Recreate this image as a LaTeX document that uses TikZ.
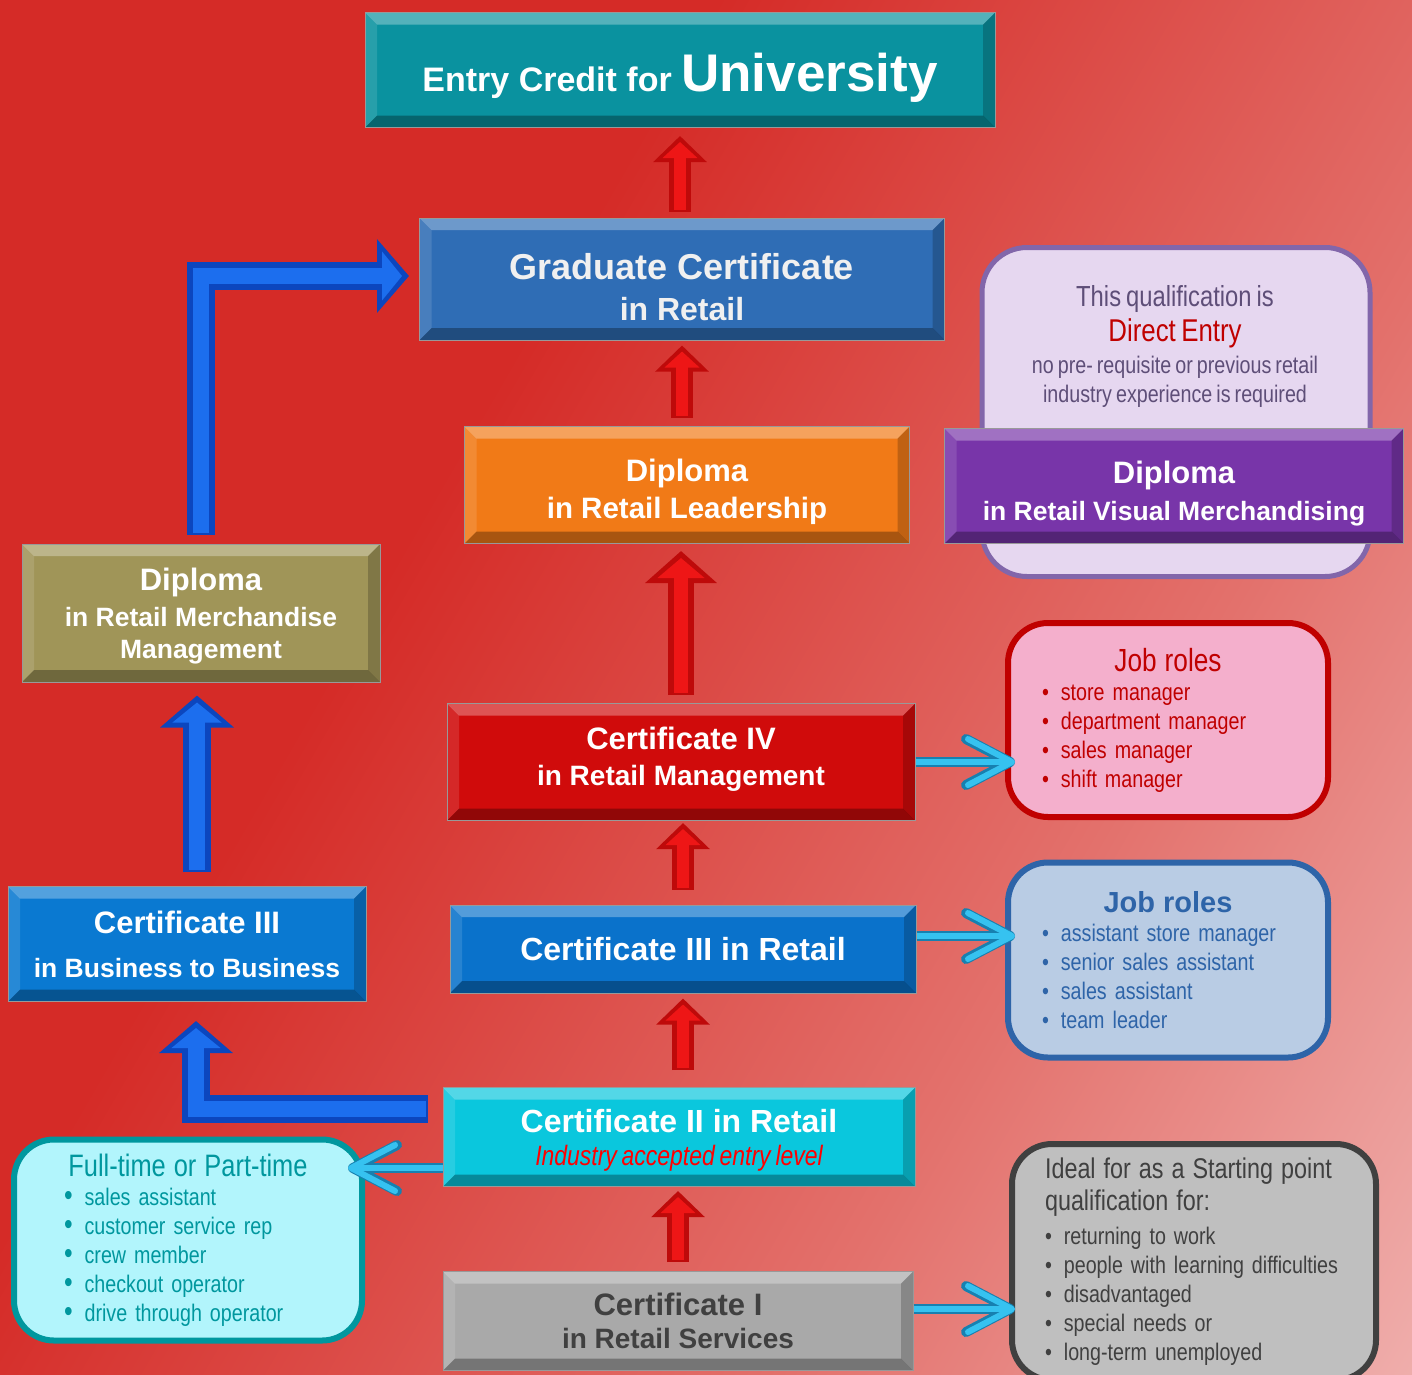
\documentclass[tikz,border=0pt]{standalone}
\usepackage{fontspec}
\setmainfont{Liberation Sans}
\newfontfamily\narrowfont[FakeStretch=0.82, WordSpace=0.75]{Liberation Sans}
\usetikzlibrary{arrows.meta}

\definecolor{bgred}{HTML}{D52B27}
\definecolor{bgmid}{HTML}{E3716C}
\definecolor{bgpink}{HTML}{F9DEDE}
\definecolor{univteal}{HTML}{0A929F}
\definecolor{gradblue}{HTML}{2F6DB5}
\definecolor{leadorange}{HTML}{F17A17}
\definecolor{visualpurple}{HTML}{7835A9}
\definecolor{merchgold}{HTML}{A09558}
\definecolor{certred}{HTML}{D00B0B}
\definecolor{retailblue}{HTML}{0A72CB}
\definecolor{btobblue}{HTML}{0A79D1}
\definecolor{entrycyan}{HTML}{0AC7DD}
\definecolor{servicegray}{HTML}{A9A9A9}
\definecolor{arrowred}{HTML}{EE1616}
\definecolor{arrowreddark}{HTML}{BE0A0A}
\definecolor{arrowblue}{HTML}{1C6EEE}
\definecolor{arrowbluedark}{HTML}{0C46BE}
\definecolor{pointer}{HTML}{36C2F0}
\definecolor{pointerdark}{HTML}{1780B0}
\definecolor{rolesred}{HTML}{C00000}
\definecolor{rolespink}{HTML}{F4AFCC}
\definecolor{rolesblue}{HTML}{2E64A8}
\definecolor{rolesfill}{HTML}{B9CCE4}
\definecolor{parttime}{HTML}{00979E}
\definecolor{parttimefill}{HTML}{B2F5FC}
\definecolor{idealgray}{HTML}{404040}
\definecolor{idealfill}{HTML}{BFBFBF}
\definecolor{directline}{HTML}{8266AA}
\definecolor{directfill}{HTML}{E6D7F0}
\definecolor{directtext}{HTML}{5E4E78}

\pgfdeclarehorizontalshading{backdrop}{100bp}{color(0bp)=(bgred); color(38bp)=(bgred); color(65bp)=(bgmid); color(100bp)=(bgpink)}

\newcommand\headsize{\fontsize{31}{37}\selectfont}

\begin{document}
\begin{tikzpicture}[x=1pt, y=-1pt,
  bevel/.style={path picture={
    \path (path picture bounding box.north west) coordinate (bnw)
          (path picture bounding box.north east) coordinate (bne)
          (path picture bounding box.south west) coordinate (bsw)
          (path picture bounding box.south east) coordinate (bse);
    \fill[white, opacity=.3] (bnw) -- (bne) -- ([shift={(-12pt,-12pt)}]bne) -- ([shift={(12pt,-12pt)}]bnw) -- cycle;
    \fill[white, opacity=.12] (bnw) -- ([shift={(12pt,-12pt)}]bnw) -- ([shift={(12pt,12pt)}]bsw) -- (bsw) -- cycle;
    \fill[black, opacity=.3] (bsw) -- ([shift={(12pt,12pt)}]bsw) -- ([shift={(-12pt,12pt)}]bse) -- (bse) -- cycle;
    \fill[black, opacity=.2] (bse) -- ([shift={(-12pt,12pt)}]bse) -- ([shift={(-12pt,-12pt)}]bne) -- (bne) -- cycle;}},
  qual/.style={rectangle, fill=#1, draw=black!40, line width=1pt, bevel, inner sep=0pt,
    align=center, text=white, font=\bfseries\fontsize{28}{33}\selectfont},
  infobox/.style={rectangle, rounded corners=40pt, draw=#1, text=#1, line width=6pt, inner sep=0pt,
    align=left, font=\narrowfont\fontsize{24}{29}\selectfont},
  redup/.style={draw=arrowreddark, line width=22pt, -{Triangle[width=52pt,length=26pt]},
    postaction={draw=arrowred, line width=12pt, shorten >=6pt, shorten <=2pt, -{Triangle[width=34pt,length=16pt]}}},
  redbig/.style={draw=arrowreddark, line width=26pt, -{Triangle[width=70pt,length=32pt]},
    postaction={draw=arrowred, line width=14pt, shorten >=7pt, shorten <=2pt, -{Triangle[width=46pt,length=20pt]}}},
  blueup/.style={draw=arrowbluedark, line width=28pt, line join=miter, -{Triangle[width=72pt,length=32pt]},
    postaction={draw=arrowblue, line width=16pt, shorten >=7pt, shorten <=2pt, -{Triangle[width=48pt,length=20pt]}}},
  pointer/.style={draw=pointer, line width=6pt, -{Straight Barb[length=44pt,width=46pt,round]},
    preaction={draw=pointerdark, line width=10pt}}]

\shade[shading=backdrop, shading angle=-30] (0,0) rectangle (1412,1374);
\useasboundingbox (0,0) rectangle (1412,1374);

\node[rectangle, rounded corners=45pt, draw=directline, fill=directfill, line width=5pt,
  minimum width=388pt, minimum height=329pt] (direct) at (1176,412) {};
\node[align=center, text=directtext, font=\narrowfont\fontsize{24}{29}\selectfont] (directnote) at (1175,346)
  {{\fontsize{29}{35}\selectfont This qualification is}\\[6pt]
   {\color{rolesred}\fontsize{31.5}{35}\selectfont Direct Entry}\\[3pt]
   no pre- requisite or previous retail\\
   industry experience is required};

\node[qual=univteal, minimum width=630pt, minimum height=115pt] (univ) at (680,70)
  {\rule{0pt}{53pt}\fontsize{34}{40}\selectfont Entry Credit for \fontsize{53}{60}\selectfont University};
\node[qual=gradblue, text=black!6, minimum width=525pt, minimum height=122pt] (grad) at (682,279)
  {\rule{0pt}{42pt}\fontsize{36}{41}\selectfont Graduate Certificate\\[8pt]{\fontsize{32}{37}\selectfont in Retail}};
\node[qual=leadorange, minimum width=445pt, minimum height=117pt, font=\bfseries\fontsize{29.5}{33}\selectfont] (lead) at (687,485)
  {\rule{0pt}{37pt}{\headsize Diploma}\\[4pt]in Retail Leadership};
\node[qual=visualpurple, minimum width=459pt, minimum height=115pt,
  font=\bfseries\fontsize{26.5}{32}\selectfont] (visual) at (1174,486)
  {\rule{0pt}{38pt}{\headsize Diploma}\\[5pt]in Retail Visual Merchandising};
\node[qual=merchgold, minimum width=358pt, minimum height=138pt,
  font=\bfseries\fontsize{26.5}{32}\selectfont] (merch) at (201,613)
  {\rule{0pt}{28pt}{\headsize Diploma}\\[4pt]in Retail Merchandise\\Management};
\node[qual=certred, minimum width=468pt, minimum height=117pt] (cert4) at (681,762)
  {{\headsize Certificate IV}\\[3pt]in Retail Management\rule[-12pt]{0pt}{12pt}};
\node[qual=retailblue, minimum width=466pt, minimum height=88pt] (cert3) at (683,949)
  {\fontsize{32}{37}\selectfont Certificate III in Retail};
\node[qual=btobblue, minimum width=358pt, minimum height=115pt,
  font=\bfseries\fontsize{26.5}{32}\selectfont] (btob) at (187,944)
  {{\headsize Certificate III}\\[12pt]in Business to Business};
\node[qual=entrycyan, minimum width=472pt, minimum height=99pt] (cert2) at (679,1137)
  {\rule{0pt}{29pt}{\fontsize{32}{37}\selectfont Certificate II in Retail}\\
   {\narrowfont\mdseries\itshape\color{red}\fontsize{28}{33}\selectfont Industry accepted entry level}};
\node[qual=servicegray, text=idealgray, minimum width=470pt, minimum height=99pt] (cert1) at (678,1321)
  {{\headsize Certificate I}\\in Retail Services};

\node[infobox=rolesred, fill=rolespink, minimum width=320pt, minimum height=194pt, text width=252pt] (roles4) at (1168,720)
  {{\centering\fontsize{32}{32}\selectfont Job roles\par}
   \textbullet\enspace store manager\\
   \textbullet\enspace department manager\\
   \textbullet\enspace sales manager\\
   \textbullet\enspace shift manager};
\node[infobox=rolesblue, fill=rolesfill, minimum width=320pt, minimum height=195pt, text width=252pt] (roles3) at (1168,960)
  {{\centering\rmfamily\bfseries\fontsize{29}{32}\selectfont Job roles\par}
   \textbullet\enspace assistant store manager\\
   \textbullet\enspace senior sales assistant\\
   \textbullet\enspace sales assistant\\
   \textbullet\enspace team leader};
\node[infobox=parttime, fill=parttimefill, minimum width=348pt, minimum height=201pt, text width=248pt] (parttime) at (188,1240)
  {{\centering\fontsize{31}{32}\selectfont Full-time or Part-time\par}
   {\fontsize{30}{29}\selectfont\textbullet}\enspace sales assistant\\
   {\fontsize{30}{29}\selectfont\textbullet}\enspace customer service rep\\
   {\fontsize{30}{29}\selectfont\textbullet}\enspace crew member\\
   {\fontsize{30}{29}\selectfont\textbullet}\enspace checkout operator\\
   {\fontsize{30}{29}\selectfont\textbullet}\enspace drive through operator};
\node[infobox=idealgray, fill=idealfill, minimum width=364pt, minimum height=236pt, text width=298pt] (ideal) at (1194,1262)
  {{\fontsize{28.5}{32}\selectfont Ideal for as a Starting point\\qualification for:\par}\vspace{5pt}
   \textbullet\enspace returning to work\\
   \textbullet\enspace people with learning difficulties\\
   \textbullet\enspace disadvantaged\\
   \textbullet\enspace special needs or\\
   \textbullet\enspace long-term unemployed};

\draw[redup] ([yshift=9pt]cert1.north) -- ([yshift=-4pt]cert1.north |- cert2.south);
\draw[redup] ([yshift=17pt]cert3.south |- cert2.north) -- ([yshift=-5pt]cert3.south);
\draw[redup] ([yshift=15pt]cert3.north) -- ([yshift=-2pt]cert3.north |- cert4.south);
\draw[redbig] ([yshift=8pt]cert4.north) -- ([yshift=-7pt]cert4.north |- lead.south);
\draw[redup] ([yshift=8pt]grad.south |- lead.north) -- ([yshift=-5pt]grad.south);
\draw[redup] ([yshift=6pt]univ.south |- grad.north) -- ([yshift=-8pt]univ.south);

\draw[blueup] ([shift={(-4pt,14pt)}]merch.south |- btob.north) -- ([shift={(-4pt,-13pt)}]merch.south);
\draw[blueup] ([yshift=9pt]merch.north) |- ([shift={(-10pt,3pt)}]grad.west);
\draw[blueup] ([shift={(-15pt,28pt)}]cert2.west) -| ([shift={(9pt,-19pt)}]btob.south);

\draw[pointer] (cert4.east) -- ([xshift=10pt]cert4.east -| roles4.west);
\draw[pointer] ([yshift=13pt]cert3.east) -- ([shift={(10pt,13pt)}]cert3.east -| roles3.west);
\draw[pointer] ([yshift=-31pt]cert2.west) -- ([shift={(-17pt,-31pt)}]cert2.west -| parttime.east);
\draw[pointer] ([yshift=12pt]cert1.east) -- ([shift={(6pt,12pt)}]cert1.east -| ideal.west);
\end{tikzpicture}
\end{document}
